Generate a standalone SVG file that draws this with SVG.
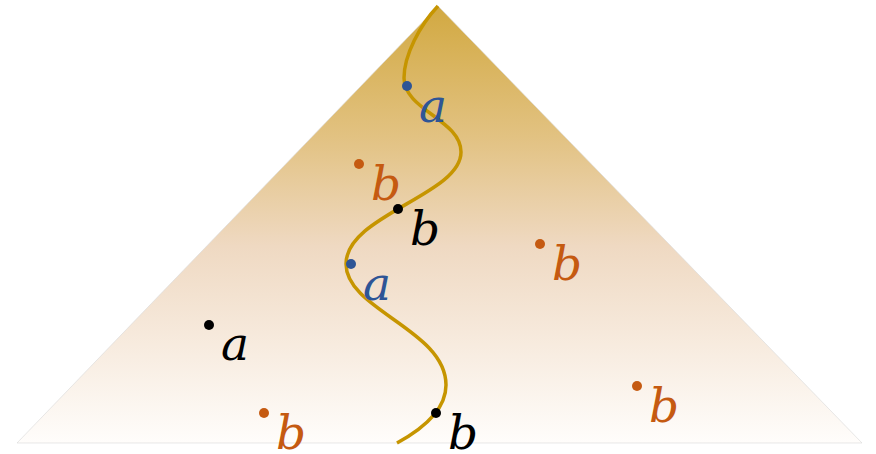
<svg xmlns="http://www.w3.org/2000/svg" width="876" height="454" viewBox="0 0 876 454">
<defs>
<linearGradient id="g" x1="0" y1="6" x2="0" y2="443" gradientUnits="userSpaceOnUse">
<stop offset="0" stop-color="#d2a941"/>
<stop offset="0.3" stop-color="#e2c282"/>
<stop offset="0.55" stop-color="#efd9c2"/>
<stop offset="1" stop-color="#fffdfb"/>
</linearGradient>
<style>
.lbl{font-family:"DejaVu Serif",serif;font-style:italic;font-size:47px}
.blue{fill:#2e5596}.orange{fill:#c55a11}.black{fill:#000}
</style>
</defs>
<polygon points="438,6 17,443 862,443" fill="url(#g)" stroke="#d8d8d8" stroke-width="0.6"/>
<g id="connectors">
<path d="M438,6 C420,25 404,55 404,78 C404,110 461,120 461,152 C461,195 346,215 346,264 C346,310 446,330 446,385 C446,405 430,425 397,443" fill="none" stroke="#c69500" stroke-width="3.5"/>
</g>
<g id="n1"><circle cx="407" cy="86" r="5" class="blue"/><text x="419" y="122" class="lbl blue">a</text></g>
<g id="n2"><circle cx="359" cy="164" r="5" class="orange"/><text x="371" y="200" class="lbl orange">b</text></g>
<g id="n3"><circle cx="398" cy="209" r="5" class="black"/><text x="410" y="245" class="lbl black">b</text></g>
<g id="n4"><circle cx="540" cy="244" r="5" class="orange"/><text x="552" y="280" class="lbl orange">b</text></g>
<g id="n5"><circle cx="351" cy="264" r="5" class="blue"/><text x="363" y="300" class="lbl blue">a</text></g>
<g id="n6"><circle cx="209" cy="325" r="5" class="black"/><text x="221" y="360" class="lbl black">a</text></g>
<g id="n7"><circle cx="264" cy="413" r="5" class="orange"/><text x="276" y="449" class="lbl orange">b</text></g>
<g id="n8"><circle cx="637" cy="386" r="5" class="orange"/><text x="649" y="422" class="lbl orange">b</text></g>
<g id="n9"><circle cx="436" cy="413" r="5" class="black"/><text x="448" y="449" class="lbl black">b</text></g>
</svg>
